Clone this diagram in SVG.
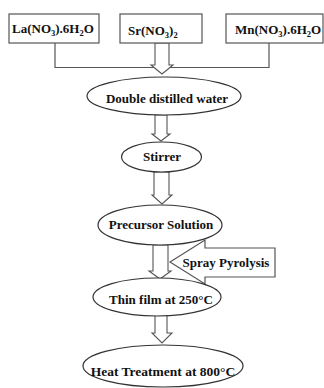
<svg xmlns="http://www.w3.org/2000/svg" width="324" height="388" viewBox="0 0 324 388">
<style>
  .box{fill:#fff;stroke:#555;stroke-width:1.2}
  .ell{fill:#fff;stroke:#333;stroke-width:1.2}
  .ln{fill:none;stroke:#555;stroke-width:1.2}
  .arr{fill:#fff;stroke:#555;stroke-width:1.1;stroke-linejoin:miter}
  text{font-family:"Liberation Serif","Times New Roman",serif;font-weight:bold;font-size:13px;fill:#111}
  .m{text-anchor:middle}
  .sub{font-size:8.5px}
</style>
<rect width="324" height="388" fill="#fff"/>
<g id="connectors">
  <polyline class="ln" points="55,43 55,67.5 269,67.5 269,43"/>
  <polygon class="arr" points="155,43 169,43 169,65 173,65 162,74 151,65 155,65"/>
  <polygon class="arr" points="155,115 167,115 167,134 170,134 161,141 152,134 155,134"/>
  <polygon class="arr" points="154,172 169,172 169,195 172,195 162,204 152,195 154,195"/>
  <polygon class="arr" points="153,245 168,245 168,271 171,271 160,279 149,271 153,271"/>
  <polygon class="arr" points="155,315 167,315 167,333 172,333 162,343 152,333 155,333"/>
</g>
<g id="n-la">
  <rect class="box" x="9" y="14" width="90" height="29"/>
  <text x="12" y="33">La(NO<tspan class="sub" dy="3">3</tspan><tspan dy="-3">).6H</tspan><tspan class="sub" dy="3">2</tspan><tspan dy="-3">O</tspan></text>
</g>
<g id="n-sr">
  <rect class="box" x="120" y="14" width="82" height="29"/>
  <text x="128" y="35">Sr(NO<tspan class="sub" dy="3">3</tspan><tspan dy="-3">)</tspan><tspan class="sub" dy="3">2</tspan></text>
</g>
<g id="n-mn">
  <rect class="box" x="226" y="14" width="97" height="29"/>
  <text x="235" y="34">Mn(NO<tspan class="sub" dy="3">3</tspan><tspan dy="-3">).6H</tspan><tspan class="sub" dy="3">2</tspan><tspan dy="-3">O</tspan></text>
</g>
<g id="n-water">
  <ellipse class="ell" cx="164" cy="96" rx="77" ry="19"/>
  <text class="m" x="167" y="103">Double distilled water</text>
</g>
<g id="n-stirrer">
  <ellipse class="ell" cx="161.5" cy="157" rx="40" ry="15"/>
  <text class="m" x="162" y="161">Stirrer</text>
</g>
<g id="n-precursor">
  <ellipse class="ell" cx="160" cy="225" rx="62" ry="20"/>
  <text class="m" x="161" y="229">Precursor Solution</text>
</g>
<g id="n-spray">
  <polygon class="box" points="275,248 205,248 205,240 170,262 205,284 205,277 275,277"/>
  <text class="m" x="226" y="267">Spray Pyrolysis</text>
</g>
<g id="n-thinfilm">
  <ellipse class="ell" cx="157" cy="297" rx="64" ry="19"/>
  <text class="m" x="161" y="304">Thin film at 250°C</text>
</g>
<g id="n-heat">
  <ellipse class="ell" cx="163" cy="366" rx="80" ry="21"/>
  <text class="m" x="163" y="376" style="font-size:13.5px">Heat Treatment at 800°C</text>
</g>
</svg>
